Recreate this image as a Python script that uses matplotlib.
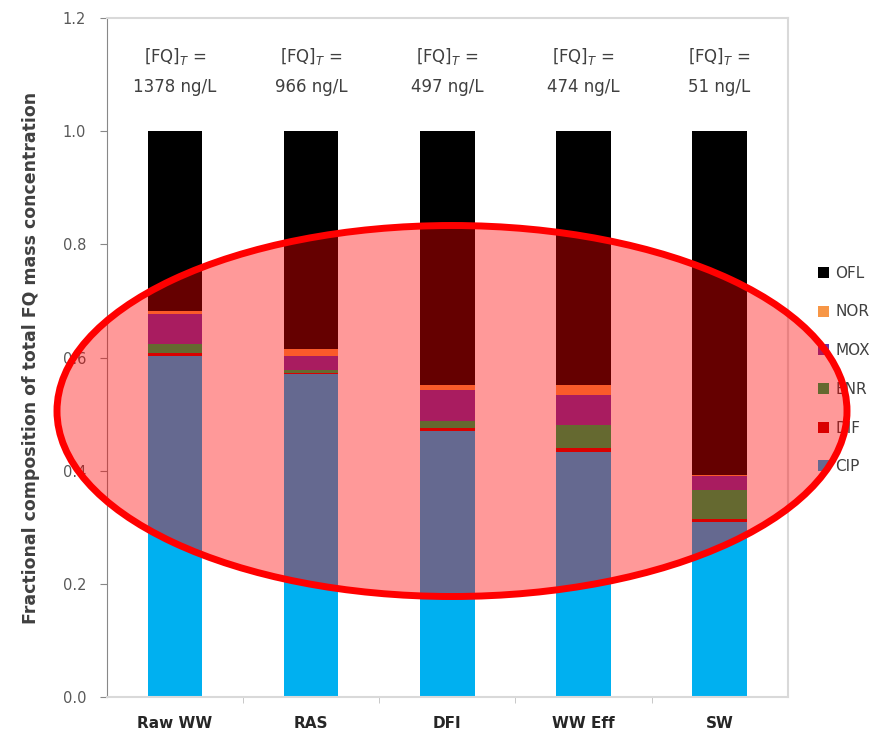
import numpy as np
import matplotlib.pyplot as plt
from matplotlib.patches import Ellipse, Patch

sites = ["Raw WW", "RAS", "DFI", "WW Eff", "SW"]
totals = ["1378", "966", "497", "474", "51"]

# stacked fractions, bottom to top
CIP = [0.602, 0.570, 0.470, 0.433, 0.310]
DIF = [0.006, 0.003, 0.005, 0.007, 0.005]
ENR = [0.016, 0.005, 0.012, 0.040, 0.050]
MOX = [0.053, 0.025, 0.055, 0.053, 0.025]
NOR = [0.006, 0.012, 0.010, 0.018, 0.003]

names = ["CIP", "DIF", "ENR", "MOX", "NOR", "OFL"]
colors = ["#00B0F0", "#C00000", "#00B050", "#7030A0", "#F79646", "#000000"]

OFL = [1 - (a + b + c + d + e) for a, b, c, d, e in zip(CIP, DIF, ENR, MOX, NOR)]
series = [CIP, DIF, ENR, MOX, NOR, OFL]

fig = plt.figure(figsize=(8.92, 7.36), dpi=100)
ax = fig.add_axes([0.12, 0.053, 0.763, 0.9225])

x = np.arange(len(sites))
bottom = np.zeros(len(sites))
for vals, c in zip(series, colors):
    ax.bar(x, vals, 0.4, bottom=bottom, color=c, zorder=2)
    bottom += np.array(vals)

for i, t in enumerate(totals):
    ax.text(i, 1.107, "[FQ]$_T$ =\n" + t + " ng/L", ha="center", va="center",
            fontsize=12, color="#404040", linespacing=1.8)

ax.set_xlim(-0.5, 4.5)
ax.set_ylim(0, 1.2)
ax.set_yticks(np.arange(0, 1.21, 0.2))
ax.set_yticklabels(["%.1f" % v for v in np.arange(0, 1.21, 0.2)], fontsize=10.5, color="#595959")
ax.set_xticks(x)
ax.set_xticklabels(sites, fontsize=11, fontweight="bold", color="#262626")
ax.set_xticks(np.arange(0.5, 4.5, 1), minor=True)
ax.tick_params(axis="x", which="major", length=0, pad=14)
ax.tick_params(axis="x", which="minor", length=4, color="#bfbfbf")
ax.tick_params(axis="y", length=5, color="#888888", pad=10)
for s in ["top", "right", "bottom"]:
    ax.spines[s].set_color("#d9d9d9")
    ax.spines[s].set_linewidth(1.5)
ax.spines["left"].set_color("#888888")
ax.set_ylabel("Fractional composition of total FQ mass concentration",
              fontsize=12.5, fontweight="bold", color="#404040", labelpad=16)

handles = [Patch(facecolor=c, label=n) for n, c in zip(names, colors)][::-1]
fig.legend(handles=handles, loc="center left", bbox_to_anchor=(0.908, 1 - 370 / 736),
           frameon=False, fontsize=11, labelspacing=1.55, handlelength=0.75,
           handleheight=0.75, handletextpad=0.4, borderpad=0, labelcolor="#404040")

# red highlight ellipse over the chart
ell = Ellipse((452 / 892, 1 - 411 / 736), 790 / 892, 371 / 736,
              transform=fig.transFigure, facecolor=(1, 0, 0, 0.4),
              edgecolor="red", linewidth=5, zorder=10)
fig.add_artist(ell)

fig.savefig("out.png", dpi=100)
